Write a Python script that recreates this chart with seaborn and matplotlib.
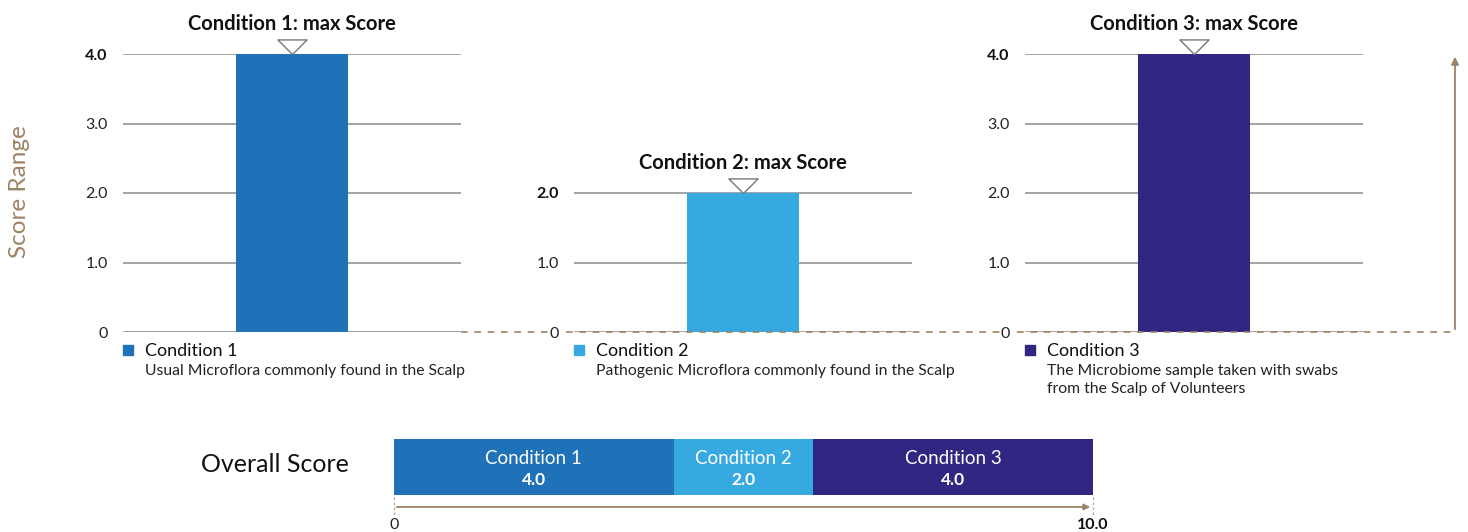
import matplotlib
matplotlib.use("Agg")
import matplotlib.pyplot as plt
import seaborn as sns
import pandas as pd
import numpy as np
from matplotlib.patches import Rectangle, FancyArrowPatch
from matplotlib.lines import Line2D
from matplotlib.path import Path

# ---------------- data ----------------
conditions = ["Condition 1", "Condition 2", "Condition 3"]
scores = [4.0, 2.0, 4.0]
colors = ["#1f71b8", "#37a9e1", "#312783"]
descriptions = [
    "Usual Microflora commonly found in the Scalp",
    "Pathogenic Microflora commonly found in the Scalp",
    "The Microbiome sample taken with swabs\nfrom the Scalp of Volunteers",
]
max_total = 10.0

sns.set_theme(style="white")
plt.rcParams["font.family"] = ["Lato", "DejaVu Sans"]

W, H = 1468, 532
fig = plt.figure(figsize=(W / 100, H / 100), dpi=100)

def fx(px):
    return px / W

def fy(py):
    return 1 - py / H

tan = "#9c8464"
grid_c = "#8c8c8c"
panel_left_px = [123, 574, 1025]
panel_w_px = 338
y0_px, y4_px = 332, 54

tri = Path([(-1, 1), (1, 1), (0, 0), (-1, 1)],
           [Path.MOVETO, Path.LINETO, Path.LINETO, Path.CLOSEPOLY])

for i, (cond, val, col, desc) in enumerate(zip(conditions, scores, colors, descriptions)):
    lp = panel_left_px[i]
    ax = fig.add_axes([fx(lp), fy(y0_px), fx(panel_w_px), (y0_px - y4_px) / H])
    ax.set_facecolor("none")
    df = pd.DataFrame({"cond": [cond], "score": [val]})
    sns.barplot(data=df, x="cond", y="score", color=col, width=1.0, ax=ax,
                saturation=1, linewidth=0, zorder=3)
    ax.set_xlim(-1.5, 1.5)
    ax.set_ylim(0, 4)
    ticks = np.arange(0, val + 0.5, 1.0)
    ax.set_yticks(ticks)
    labels = ["0" if t == 0 else f"{t:.1f}" for t in ticks]
    ax.set_yticklabels(labels)
    for t, lab in zip(ticks, ax.get_yticklabels()):
        lab.set_fontsize(11.5)
        lab.set_color("#222222")
        if t == val:
            lab.set_fontweight("bold")
            lab.set_color("#111111")
    ax.tick_params(axis="y", length=0, pad=11)
    ax.set_xticks([])
    ax.set_xlabel("")
    ax.set_ylabel("")
    for s in ax.spines.values():
        s.set_visible(False)
    for t in ticks:
        ax.axhline(t, color=grid_c, lw=1.1, zorder=1)
    # triangle marker + title
    ax.plot([0], [val], marker=tri, markersize=21, mfc="white", mec="#777777",
            mew=1.0, clip_on=False, zorder=5)
    ax.annotate(f"{cond}: max Score", xy=(0, val), xytext=(0, 21.5),
                textcoords="offset points", ha="center", va="center",
                fontsize=14.5, fontweight="bold", color="#111111",
                annotation_clip=False)
    # legend below
    fig.add_artist(Rectangle((fx(lp), fy(355)), fx(10), 10 / H,
                             transform=fig.transFigure, color=col))
    fig.text(fx(lp + 22), fy(351), cond, fontsize=13, color="#111111",
             ha="left", va="center")
    fig.text(fx(lp + 22), fy(364), desc, fontsize=11.3, color="#222222",
             ha="left", va="top", linespacing=1.4)

# dashed baseline connecting panels
for x0, x1 in [(461, 549), (566, 1000), (1017, 1455)]:
    fig.add_artist(Line2D([fx(x0), fx(x1)], [fy(332), fy(332)],
                          transform=fig.transFigure, color=tan, lw=1.2,
                          ls=(0, (4, 4)), zorder=6))
# vertical arrow on right
fig.add_artist(FancyArrowPatch((fx(1455), fy(332)), (fx(1455), fy(54)),
                               transform=fig.transFigure, arrowstyle="-|>",
                               mutation_scale=11, color=tan, lw=1.3))

fig.text(fx(20), fy(192), "Score Range", rotation=90, fontsize=17.5,
         color=tan, ha="center", va="center")

# ---------------- overall score stacked bar ----------------
bx0, bx1 = 394, 1093
axb = fig.add_axes([fx(bx0), fy(495), fx(bx1 - bx0), 56 / H])
axb.set_facecolor("none")
lefts = np.concatenate([[0], np.cumsum(scores)[:-1]])
for cond, val, col, left in zip(conditions, scores, colors, lefts):
    axb.barh([0], [val], left=[left], height=1.0, color=col, linewidth=0)
    cx = left + val / 2
    axb.text(cx, 0.15, cond, ha="center", va="center", color="white", fontsize=13.5)
    axb.text(cx, -0.24, f"{val:.1f}", ha="center", va="center", color="white",
             fontsize=12.5, fontweight="bold")
axb.set_xlim(0, max_total)
axb.set_ylim(-0.5, 0.5)
axb.axis("off")

fig.text(fx(275), fy(465), "Overall Score", fontsize=18, color="#111111",
         ha="center", va="center")

fig.add_artist(FancyArrowPatch((fx(bx0), fy(507)), (fx(bx1), fy(507)),
                               transform=fig.transFigure, arrowstyle="-|>",
                               mutation_scale=9, color=tan, lw=1.3))
for x in (bx0, bx1):
    fig.add_artist(Line2D([fx(x), fx(x)], [fy(497), fy(517)],
                          transform=fig.transFigure, color="#b8a88c", lw=0.9,
                          ls=(0, (2, 2))))
fig.text(fx(bx0), fy(518), "0", fontsize=11.5, color="#222222", ha="center", va="top")
fig.text(fx(bx1), fy(518), f"{max_total:.1f}", fontsize=11.5, fontweight="bold",
         color="#111111", ha="center", va="top")

fig.savefig("out.png", dpi=100)
